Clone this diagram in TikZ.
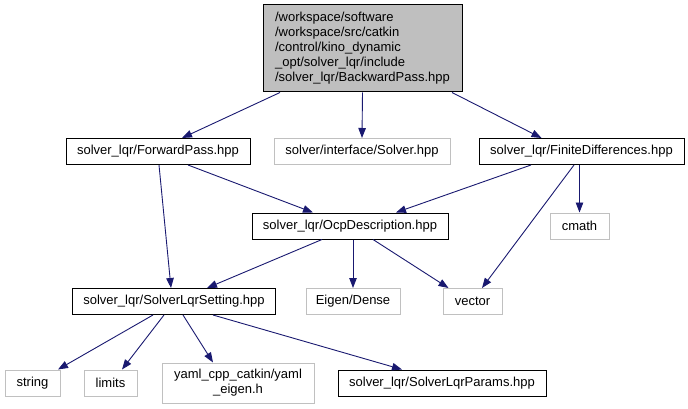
\documentclass[tikz,border=0pt]{standalone}
\usepackage{fontspec}
\setmainfont{Liberation Sans}
\usetikzlibrary{arrows.meta,positioning}
\definecolor{edgeblue}{HTML}{191970}
\definecolor{rootgray}{HTML}{BFBFBF}
\definecolor{sysgray}{HTML}{C0C0C0}

\begin{document}
\begin{tikzpicture}[x=1pt,y=-1pt,
  inc/.style={draw=black,line width=1pt,fill=white,minimum height=26pt,inner sep=0pt,font=\fontsize{13}{15}\selectfont},
  sys/.style={inc,draw=sysgray},
  dep/.style={draw=edgeblue,line width=0.9pt,-{Triangle[length=10pt,width=7.5pt]}}]
\useasboundingbox (0,0) rectangle (688,409);
% files
\node[inc,fill=rootgray,minimum width=199pt,minimum height=87pt,align=left,
  font=\fontsize{13}{15}\selectfont] (root) at (362.5,48.5)
  {/workspace/software\\/workspace/src/catkin\\/control/kino\_dynamic\\\_opt/solver\_lqr/include\\/solver\_lqr/BackwardPass.hpp};
\node[inc,minimum width=184pt] (fp) at (158,151.5) {solver\_lqr/ForwardPass.hpp};
\node[sys,minimum width=176pt] (solver) at (362,151.5) {solver/interface/Solver.hpp};
\node[inc,minimum width=205pt] (fd) at (581.5,151.5) {solver\_lqr/FiniteDifferences.hpp};
\node[inc,minimum width=196pt] (ocp) at (350,226) {solver\_lqr/OcpDescription.hpp};
\node[sys,minimum width=59pt] (cmath) at (579.5,226) {cmath};
\node[inc,minimum width=203pt] (sls) at (174,301.5) {solver\_lqr/SolverLqrSetting.hpp};
\node[sys,minimum width=94pt] (eigen) at (353,301.5) {Eigen/Dense};
\node[sys,minimum width=59pt] (vec) at (472.5,301.5) {vector};
\node[sys,minimum width=55pt] (str) at (32.5,383) {string};
\node[sys,minimum width=53pt] (lim) at (110.5,383) {limits};
\node[sys,minimum width=152pt,minimum height=40pt,align=center] (yaml) at (238,383)
  {yaml\_cpp\_catkin/yaml\\\_eigen.h};
\node[inc,minimum width=208pt] (par) at (442,383) {solver\_lqr/SolverLqrParams.hpp};
% includes
\draw[dep] ([xshift=-82.5pt]root.south) -- ([xshift=24pt]fp.north);
\draw[dep] (root.south) -- (solver.north);
\draw[dep] ([xshift=89.5pt]root.south) -- ([xshift=-40pt]fd.north);
\draw[dep] ([xshift=30pt]fp.south) -- ([xshift=-37pt]ocp.north);
\draw[dep] ([xshift=1pt]fp.south) -- ([xshift=-3pt]sls.north);
\draw[dep] ([xshift=-50.5pt]fd.south) -- ([xshift=46pt]ocp.north);
\draw[dep] ([xshift=-2pt]fd.south) -- (cmath.north);
\draw[dep] ([xshift=-7.5pt]fd.south) -- ([xshift=9.5pt]vec.north);
\draw[dep] ([xshift=-28pt]ocp.south) -- ([xshift=33pt]sls.north);
\draw[dep] ([xshift=3pt]ocp.south) -- (eigen.north);
\draw[dep] ([xshift=23pt]ocp.south) -- ([xshift=-24pt]vec.north);
\draw[dep] ([xshift=-21pt]sls.south) -- ([xshift=25.5pt]str.north);
\draw[dep] ([xshift=-10pt]sls.south) -- ([xshift=11.5pt]lim.north);
\draw[dep] ([xshift=9pt]sls.south) -- ([xshift=-25pt]yaml.north);
\draw[dep] ([xshift=39pt]sls.south) -- ([xshift=-40pt]par.north);
\end{tikzpicture}
\end{document}
